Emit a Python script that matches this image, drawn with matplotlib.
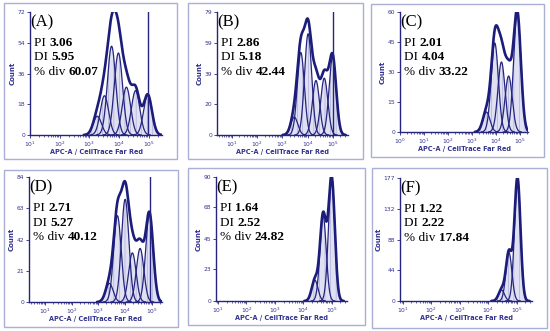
import numpy as np
import matplotlib
matplotlib.use('Agg')
import matplotlib.pyplot as plt
from matplotlib.patches import Rectangle
from matplotlib.ticker import LogLocator, FixedLocator, FuncFormatter, NullFormatter

# данные панелей
panel_labels = ['(A)', '(B)', '(C)', '(D)', '(E)', '(F)']
pi_values = ['3.06', '2.86', '2.01', '2.71', '1.64', '1.22']
di_values = ['5.95', '5.18', '4.04', '5.27', '2.52', '2.22']
div_values = ['60.07', '42.44', '33.22', '40.12', '24.82', '17.84']

y_max = [72, 79, 60, 84, 90, 177]
y_ticks = [[0, 18, 36, 54, 72], [0, 20, 39, 59, 79], [0, 15, 30, 45, 60],
           [0, 21, 42, 63, 84], [0, 23, 45, 68, 90], [0, 44, 88, 132, 177]]

# положения пиков поколений (log10 интенсивности) и их высоты
peak_pos = [[3.27, 3.51, 3.75, 3.98, 4.25, 4.56, 4.97],
            [3.47, 3.73, 4.02, 4.33, 4.66, 4.99],
            [3.61, 3.96, 4.24, 4.54, 4.90],
            [3.41, 3.71, 4.00, 4.27, 4.56, 4.91],
            [4.40, 4.69, 4.99],
            [4.46, 4.72, 5.02]]
peak_height = [[11, 23, 52, 48, 28, 26, 23.5],
               [11.5, 53, 65, 35, 36.5, 50],
               [10, 44.5, 35, 28, 59.5],
               [12.5, 58, 69, 33, 36, 59],
               [15.2, 62, 89.5],
               [15.8, 70, 177]]
peak_width = [0.14, 0.14, 0.15, 0.14, 0.11, 0.105]
parent_line = [4.97, 4.99, None, 4.93, None, None]

# оформление
x_range = [(1.0, 5.45), (0.41, 5.6), (0.0, 5.35), (0.4, 5.38), (0.93, 5.53), (0.9, 5.53)]
ax_px = [(30, 12, 162, 135), (217, 12, 348, 135), (400, 12, 528, 132),
         (29, 177, 162, 302), (216, 177, 347, 301), (400, 178, 532, 301)]
frame_px = [(4, 3, 177, 159), (188, 3, 363, 159), (371, 4, 544, 157),
            (4, 170, 178, 327), (188, 168, 365, 325), (372, 168, 547, 328)]

W, H = 550, 331
navy = '#25257f'
plt.rcParams['hatch.linewidth'] = 0.35
plt.rcParams['hatch.color'] = '#9a9ace'

fig = plt.figure(figsize=(W / 100, H / 100), dpi=100)

for (x0, y0, x1, y1) in frame_px:
    fig.patches.append(Rectangle((x0 / W, 1 - y1 / H), (x1 - x0) / W, (y1 - y0) / H,
                                 transform=fig.transFigure, fill=False,
                                 edgecolor='#aab0d4', linewidth=1.0))

for i in range(6):
    x0, y0, x1, y1 = ax_px[i]
    ax = fig.add_axes([x0 / W, 1 - y1 / H, (x1 - x0) / W, (y1 - y0) / H])
    lo, hi = x_range[i]
    lx = np.linspace(lo, hi, 800)
    xs = 10 ** lx
    total = np.zeros_like(lx)
    for c, h in zip(peak_pos[i], peak_height[i]):
        g = h * np.exp(-0.5 * ((lx - c) / peak_width[i]) ** 2)
        total += g
        m = g > 0.05
        ax.fill_between(xs[m], g[m], facecolor='#e0e0f3', edgecolor='#9a9ace',
                        hatch='|||', linewidth=0, zorder=1)
        ax.plot(xs[m], g[m], color=navy, lw=0.9, zorder=2)
    m = total > 0.05
    ax.plot(xs[m], total[m], color='#1c1c7a', lw=1.9, zorder=3, solid_capstyle='round')
    if parent_line[i] is not None:
        ax.plot([10 ** parent_line[i]] * 2, [0, y_max[i]], color=navy, lw=1.0, zorder=3)

    ax.set_xscale('log')
    ax.set_xlim(10 ** lo, 10 ** hi)
    ax.set_ylim(0, y_max[i])
    ax.xaxis.set_major_locator(LogLocator(base=10, numticks=10))
    ax.xaxis.set_minor_locator(LogLocator(base=10, subs=np.arange(2, 10), numticks=10))
    ax.xaxis.set_major_formatter(FuncFormatter(lambda v, p: r'$10^{%d}$' % round(np.log10(v))))
    ax.xaxis.set_minor_formatter(NullFormatter())
    ax.yaxis.set_major_locator(FixedLocator(y_ticks[i]))
    for s in ['top', 'right']:
        ax.spines[s].set_visible(False)
    for s in ['left', 'bottom']:
        ax.spines[s].set_color(navy)
        ax.spines[s].set_linewidth(1.0)
    ax.tick_params(axis='both', which='major', length=2.5, width=0.6, color=navy,
                   labelsize=4.3, labelcolor='#33338f', pad=1)
    ax.tick_params(axis='x', which='minor', length=1.5, width=0.5, color=navy)
    ax.set_xlabel('APC-A / CellTrace Far Red', fontsize=4.7, color='#33338f',
                  fontweight='bold', labelpad=0)
    ax.set_ylabel('Count', fontsize=5, color='#33338f', fontweight='bold', labelpad=1.5)
    ax.patch.set_alpha(0)

    # подписи
    fx = lambda px: px / W
    fy = lambda py: 1 - py / H
    fig.text(fx(x0 + 0.5), fy(y0 + 10), panel_labels[i], fontsize=12,
             family='Liberation Serif', va='center', ha='left')
    rows = [('PI ', pi_values[i]), ('DI ', di_values[i]), ('% div ', div_values[i])]
    for k, (name, val) in enumerate(rows):
        t = fig.text(fx(x0 + 4), fy(y0 + 31 + 14.5 * k), name, fontsize=9.5,
                     family='Liberation Serif', va='center', ha='left')
        ax.annotate(val, xy=(1, 0.5), xycoords=t, va='center', ha='left',
                    fontsize=9.5, family='Liberation Serif', fontweight='bold')

plt.savefig('out.png', dpi=100)
